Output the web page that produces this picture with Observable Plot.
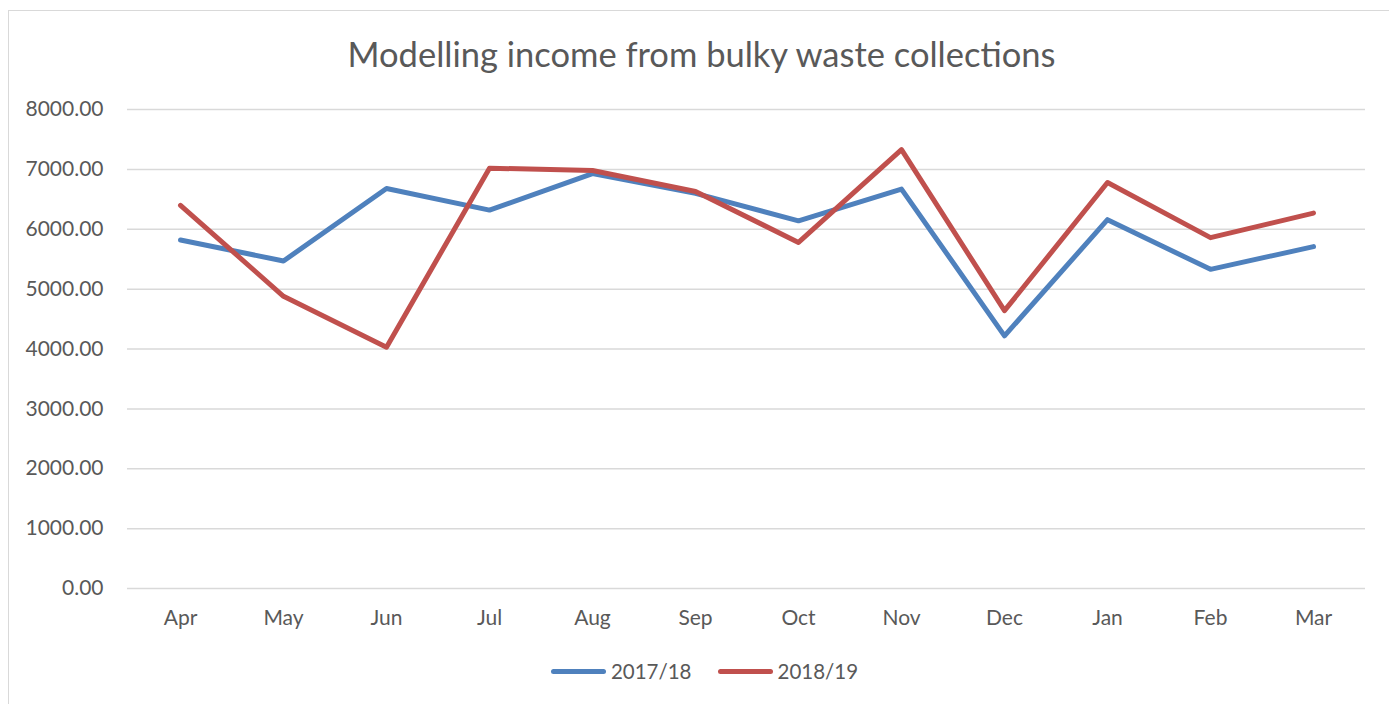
<!DOCTYPE html>
<html>
<head>
<meta charset="utf-8">
<script src="https://cdn.jsdelivr.net/npm/d3@7"></script>
<script src="https://cdn.jsdelivr.net/npm/@observablehq/plot@0.6"></script>
<style>
  html, body { margin: 0; padding: 0; background: #fff; }
  body { width: 1389px; height: 704px; overflow: hidden; position: relative; font-family: Lato, "Open Sans", sans-serif; color: #595959; }
  #frame { position: absolute; left: 8px; top: 10px; width: 1400px; height: 720px; border: 1px solid #d9d9d9; box-sizing: border-box; }
  #title { position: absolute; left: 0; width: 1403px; top: 33px; text-align: center; font-size: 34.5px; line-height: 42px; color: #595959; }
  #plot { position: absolute; left: 0; top: 90px; }
  #legend { position: absolute; left: 0; width: 1409px; top: 659px; display: flex; justify-content: center; align-items: center; font-size: 20.5px; line-height: 24px; color: #595959; }
  .item { display: flex; align-items: center; margin: 0 13px; }
  .sw { width: 55px; height: 5px; border-radius: 3px; margin-right: 5px; }
</style>
</head>
<body>
<div id="frame"></div>
<div id="title">Modelling income from bulky waste collections</div>
<div id="plot"></div>
<div id="legend"></div>
<script>
const months = ["Apr","May","Jun","Jul","Aug","Sep","Oct","Nov","Dec","Jan","Feb","Mar"];
const seriesNames = ["2017/18", "2018/19"];
const income2017 = [5820, 5470, 6680, 6320, 6930, 6600, 6140, 6670, 4220, 6160, 5330, 5710];
const income2018 = [6400, 4880, 4030, 7020, 6980, 6630, 5780, 7330, 4640, 6780, 5860, 6270];
const yTicks = [0, 1000, 2000, 3000, 4000, 5000, 6000, 7000, 8000];
const seriesColors = ["#4f81bd", "#c0504d"];

const rows = [];
[income2017, income2018].forEach((vals, s) => {
  vals.forEach((v, i) => rows.push({month: months[i], value: v, series: seriesNames[s]}));
});

const chart = Plot.plot({
  width: 1389,
  height: 540,
  marginTop: 19,
  marginBottom: 42,
  marginLeft: 127,
  marginRight: 24,
  style: { fontFamily: "Lato, 'Open Sans', sans-serif", fontSize: "21px", color: "#595959", background: "transparent" },
  x: { type: "point", domain: months, padding: 0.5, label: null },
  y: { domain: [0, 8000], label: null },
  color: { domain: seriesNames, range: seriesColors },
  marks: [
    Plot.gridY(yTicks, { stroke: "#d9d9d9", strokeOpacity: 1, strokeWidth: 1.5 }),
    Plot.axisY(yTicks, { tickSize: 0, tickPadding: 24, tickFormat: d3.format(".2f"), fill: "#595959", fontSize: 21, label: null }),
    Plot.axisX(months, { tickSize: 0, tickPadding: 22, fill: "#595959", fontSize: 21, label: null }),
    Plot.line(rows, { x: "month", y: "value", z: "series", stroke: "series", strokeWidth: 5, strokeLinecap: "round", strokeLinejoin: "round" })
  ]
});
document.getElementById("plot").appendChild(chart);

const legend = document.getElementById("legend");
seriesNames.forEach((name, i) => {
  const item = document.createElement("div");
  item.className = "item";
  const sw = document.createElement("div");
  sw.className = "sw";
  sw.style.background = seriesColors[i];
  const t = document.createElement("span");
  t.textContent = name;
  item.appendChild(sw);
  item.appendChild(t);
  legend.appendChild(item);
});
</script>
</body>
</html>
